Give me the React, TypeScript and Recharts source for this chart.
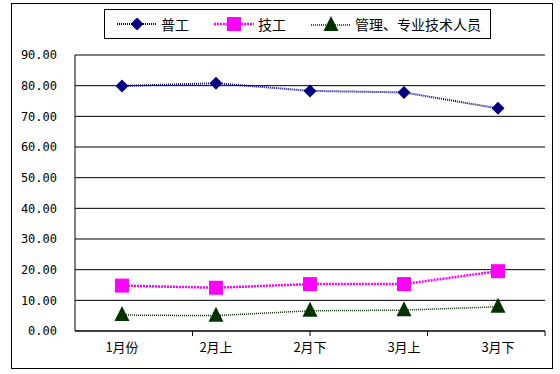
import React from "react";
import { ComposedChart, Line, XAxis, YAxis, CartesianGrid, ReferenceLine } from "recharts";

const categories = ["1月份", "2月上", "2月下", "3月上", "3月下"];
const puGong = [79.9, 80.8, 78.3, 77.8, 72.6];
const jiGong = [14.8, 14.1, 15.3, 15.3, 19.5];
const guanLi = [5.2, 5.0, 6.6, 6.8, 7.9];
const yTicks = [0, 10, 20, 30, 40, 50, 60, 70, 80, 90];
const boundaryTicks = [1, 2, 3, 4];

const seriesNames = ["普工", "技工", "管理、专业技术人员"];
const seriesColors = ["#000080", "#FF00FF", "#003300"];

const data = categories.map((c, i) => ({ name: c, a: puGong[i], b: jiGong[i], c: guanLi[i] }));

const Diamond = (p: any) => {
  const { cx, cy, fill } = p;
  if (cx == null || cy == null) return <g />;
  const r = 6.5;
  return <path d={`M${cx},${cy - r}L${cx + r},${cy}L${cx},${cy + r}L${cx - r},${cy}Z`} fill={fill} />;
};
const Square = (p: any) => {
  const { cx, cy, fill } = p;
  if (cx == null || cy == null) return <g />;
  const r = 7;
  return <rect x={cx - r} y={cy - r} width={2 * r} height={2 * r} fill={fill} />;
};
const Tri = (p: any) => {
  const { cx, cy, fill } = p;
  if (cx == null || cy == null) return <g />;
  const r = 7;
  return <path d={`M${cx},${cy - r - 2}L${cx + r + 0.5},${cy + r - 1}L${cx - r - 0.5},${cy + r - 1}Z`} fill={fill} />;
};

const EmptyTick = () => <g />;

const LegendBox = () => (
  <div style={{ position: "absolute", left: 104, top: 9, width: 385, height: 28, border: "1px solid #000", background: "#fff", display: "flex", alignItems: "center", fontFamily: "'Noto Sans CJK SC', sans-serif", fontSize: 14, color: "#000", lineHeight: "16px" }}>
    <svg width={44} height={16} style={{ marginLeft: 12 }}>
      <line x1={0} y1={8} x2={40} y2={8} stroke={seriesColors[0]} strokeWidth={2} strokeDasharray="1 1" />
      <Diamond cx={20} cy={8} fill={seriesColors[0]} />
    </svg>
    <span>{seriesNames[0]}</span>
    <svg width={44} height={16} style={{ marginLeft: 25 }}>
      <line x1={0} y1={8} x2={40} y2={8} stroke={seriesColors[1]} strokeWidth={2.5} strokeDasharray="2 1" />
      <Square cx={20} cy={8} fill={seriesColors[1]} />
    </svg>
    <span>{seriesNames[1]}</span>
    <svg width={44} height={16} style={{ marginLeft: 25 }}>
      <line x1={0} y1={9} x2={40} y2={9} stroke={seriesColors[2]} strokeWidth={1.5} strokeDasharray="1 1" />
      <Tri cx={20} cy={9} fill={seriesColors[2]} />
    </svg>
    <span>{seriesNames[2]}</span>
  </div>
);

export default function App() {
  return (
    <div style={{ position: "absolute", left: 0, top: 0, width: 560, height: 374, background: "#fff" }}>
      <div style={{ position: "absolute", left: 11, top: 3, width: 540, height: 364, border: "1px solid #000" }} />
      <div style={{ position: "absolute", left: 0, top: 0 }}>
        <ComposedChart width={560} height={374} data={data} margin={{ top: 55, right: 15, bottom: 7, left: 0 }}>
          <CartesianGrid vertical={false} stroke="#000" strokeWidth={1} />
          <XAxis xAxisId={0} type="number" domain={[0, 5]} ticks={boundaryTicks} tick={<EmptyTick />} tickSize={5} height={5} axisLine={{ stroke: "#000" }} tickLine={{ stroke: "#000" }} interval={0} />
          <XAxis xAxisId={1} dataKey="name" type="category" scale="band" height={31} axisLine={false} tickLine={false} tickSize={0} tickMargin={7} tick={{ fill: "#000", fontSize: 13, fontFamily: "'Noto Sans CJK SC', sans-serif" }} interval={0} />
          <YAxis domain={[0, 90]} ticks={yTicks} width={75} axisLine={{ stroke: "#000" }} tickLine={false} tickSize={0} tickMargin={18} tickFormatter={(v: number) => v.toFixed(2)} tick={{ fill: "#000", fontSize: 12, fontFamily: "'DejaVu Sans Mono', monospace" }} interval={0} />
          <ReferenceLine y={90} stroke="#808080" />
          <ReferenceLine x={5} xAxisId={0} stroke="#808080" />
          <Line xAxisId={1} dataKey="a" name={seriesNames[0]} stroke={seriesColors[0]} strokeWidth={2} strokeDasharray="1 1" fill={seriesColors[0]} dot={<Diamond />} isAnimationActive={false} />
          <Line xAxisId={1} dataKey="b" name={seriesNames[1]} stroke={seriesColors[1]} strokeWidth={2.5} strokeDasharray="2 1" fill={seriesColors[1]} dot={<Square />} isAnimationActive={false} />
          <Line xAxisId={1} dataKey="c" name={seriesNames[2]} stroke={seriesColors[2]} strokeWidth={1.5} strokeDasharray="1 1" fill={seriesColors[2]} dot={<Tri />} isAnimationActive={false} />
        </ComposedChart>
      </div>
      <LegendBox />
    </div>
  );
}
